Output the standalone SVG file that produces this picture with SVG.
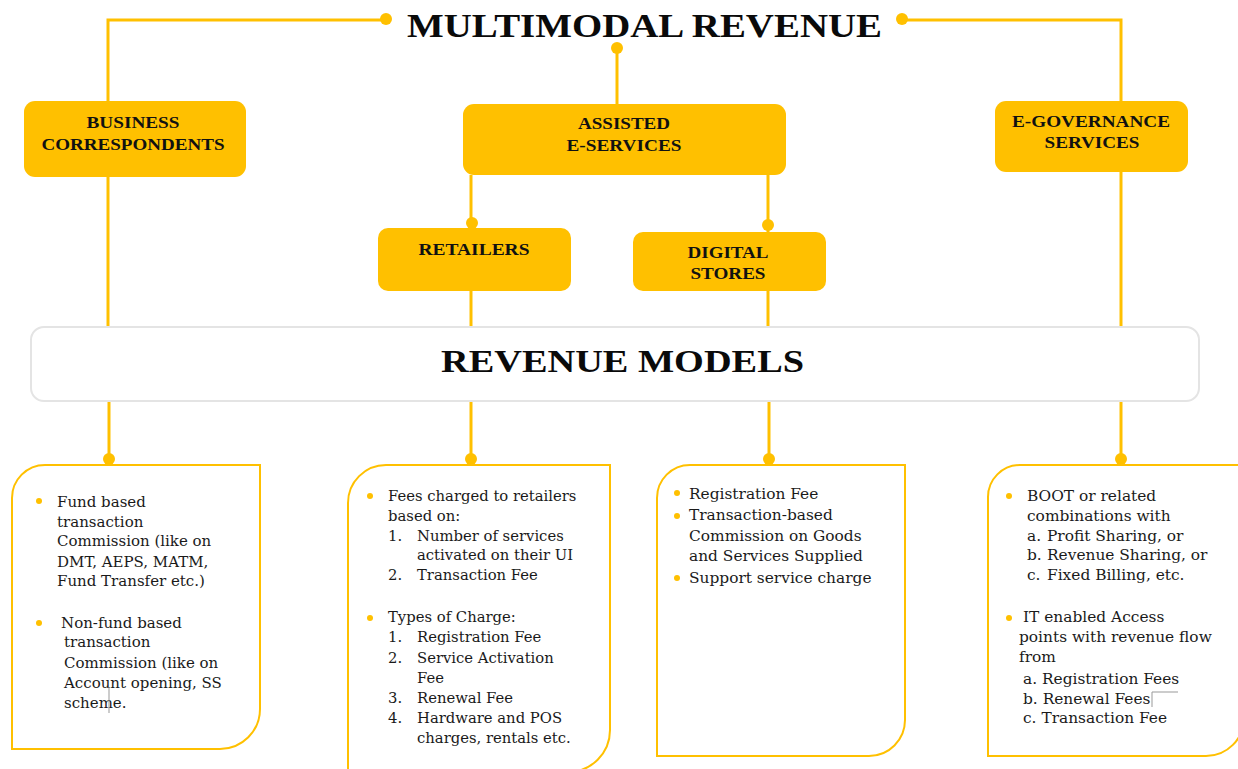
<svg xmlns="http://www.w3.org/2000/svg" width="1238" height="769" viewBox="0 0 1238 769">
<style>
.gold{fill:#FFC000}
.conn{stroke:#FFC000;stroke-width:3;fill:none}
.lbl{font-family:"Liberation Serif","Times New Roman",serif;font-weight:bold;fill:#111;text-anchor:middle}
.ttl{font-family:"Liberation Serif","Times New Roman",serif;font-weight:bold;fill:#0a0a0a}
.card{fill:#fff;stroke:#FFC000;stroke-width:2}
.a{font-family:"DejaVu Serif","Liberation Serif",serif;font-size:15px;fill:#1a1a1a}
.b{font-family:"DejaVu Serif","Liberation Serif",serif;font-size:14.8px;fill:#1a1a1a}
.c{font-family:"DejaVu Serif","Liberation Serif",serif;font-size:15.4px;fill:#1a1a1a}
.art{stroke:#999;stroke-width:1;fill:none}
</style>
<rect width="1238" height="769" fill="#fff"/>

<g id="connectors">
<path class="conn" d="M386,20 H108 V101"/>
<path class="conn" d="M902,20 H1121 V101"/>
<path class="conn" d="M617,48 V104"/>
<path class="conn" d="M471,175 V229"/>
<path class="conn" d="M768,175 V232"/>
<path class="conn" d="M108,177 V327"/>
<path class="conn" d="M471,291 V327"/>
<path class="conn" d="M768,291 V327"/>
<path class="conn" d="M1121,172 V327"/>
<path class="conn" d="M109,401 V465"/>
<path class="conn" d="M471,401 V465"/>
<path class="conn" d="M769,401 V465"/>
<path class="conn" d="M1121,401 V465"/>
<circle class="gold" cx="386" cy="19" r="6"/>
<circle class="gold" cx="902" cy="19" r="6"/>
<circle class="gold" cx="617" cy="48" r="6"/>
<circle class="gold" cx="472" cy="223" r="6"/>
<circle class="gold" cx="768" cy="225" r="6"/>
<circle class="gold" cx="109" cy="459" r="6"/>
<circle class="gold" cx="471" cy="459" r="6"/>
<circle class="gold" cx="769" cy="459" r="6"/>
<circle class="gold" cx="1121" cy="459" r="6"/>
</g>

<g id="title">
<text class="ttl" x="407" y="37" font-size="34" textLength="475" lengthAdjust="spacingAndGlyphs">MULTIMODAL REVENUE</text>
</g>

<g id="business-correspondents">
<rect class="gold" x="24" y="101" width="222" height="76" rx="11"/>
<text class="lbl" x="133" y="128" font-size="16.5" textLength="93" lengthAdjust="spacingAndGlyphs">BUSINESS</text>
<text class="lbl" x="133" y="150" font-size="16.5" textLength="183" lengthAdjust="spacingAndGlyphs">CORRESPONDENTS</text>
</g>

<g id="assisted-e-services">
<rect class="gold" x="463" y="104" width="323" height="71" rx="11"/>
<text class="lbl" x="624" y="129" font-size="16.5" textLength="92" lengthAdjust="spacingAndGlyphs">ASSISTED</text>
<text class="lbl" x="624" y="151" font-size="16.5" textLength="115" lengthAdjust="spacingAndGlyphs">E-SERVICES</text>
</g>

<g id="e-governance-services">
<rect class="gold" x="995" y="101" width="193" height="71" rx="11"/>
<text class="lbl" x="1091" y="127" font-size="16.5" textLength="158" lengthAdjust="spacingAndGlyphs">E-GOVERNANCE</text>
<text class="lbl" x="1092" y="148" font-size="16.5" textLength="95" lengthAdjust="spacingAndGlyphs">SERVICES</text>
</g>

<g id="retailers">
<rect class="gold" x="378" y="228" width="193" height="63" rx="10"/>
<text class="lbl" x="474" y="255" font-size="16.5" textLength="111" lengthAdjust="spacingAndGlyphs">RETAILERS</text>
</g>

<g id="digital-stores">
<rect class="gold" x="633" y="232" width="193" height="59" rx="10"/>
<text class="lbl" x="728" y="258" font-size="16.5" textLength="81" lengthAdjust="spacingAndGlyphs">DIGITAL</text>
<text class="lbl" x="728" y="279" font-size="16.5" textLength="75" lengthAdjust="spacingAndGlyphs">STORES</text>
</g>

<g id="revenue-models">
<rect x="31" y="327" width="1168" height="74" rx="13" fill="#fff" stroke="#e4e4e4" stroke-width="2"/>
<text class="ttl" x="441" y="372" font-size="32" textLength="363" lengthAdjust="spacingAndGlyphs">REVENUE MODELS</text>
</g>

<g id="bc-models">
<path class="card" d="M12,498 A33,33 0 0 1 45,465 H260 V709 A40,40 0 0 1 220,749 H12 Z"/>
<circle class="gold" cx="39" cy="501" r="3"/>
<text class="a" x="57" y="507">Fund based</text>
<text class="a" x="57" y="527">transaction</text>
<text class="a" x="57" y="546">Commission (like on</text>
<text class="a" x="57" y="567">DMT, AEPS, MATM,</text>
<text class="a" x="57" y="586">Fund Transfer etc.)</text>
<circle class="gold" cx="39" cy="623" r="3"/>
<text class="a" x="61" y="628">Non-fund based</text>
<text class="a" x="64" y="647">transaction</text>
<text class="a" x="64" y="668">Commission (like on</text>
<text class="a" x="64" y="688">Account opening, SS</text>
<text class="a" x="64" y="708">scheme.</text>
<path class="art" d="M109,687 V713"/>
</g>

<g id="retailer-models">
<path class="card" d="M348,503 A38,38 0 0 1 386,465 H610 V730 A42,42 0 0 1 568,772 H348 Z"/>
<circle class="gold" cx="370" cy="496" r="3"/>
<text class="b" x="388" y="501">Fees charged to retailers</text>
<text class="b" x="388" y="521">based on:</text>
<text class="b" x="388" y="541">1.</text><text class="b" x="417" y="541">Number of services</text>
<text class="b" x="417" y="560">activated on their UI</text>
<text class="b" x="388" y="580">2.</text><text class="b" x="417" y="580">Transaction Fee</text>
<circle class="gold" cx="370" cy="618" r="3"/>
<text class="b" x="388" y="622">Types of Charge:</text>
<text class="b" x="388" y="642">1.</text><text class="b" x="417" y="642">Registration Fee</text>
<text class="b" x="388" y="663">2.</text><text class="b" x="417" y="663">Service Activation</text>
<text class="b" x="417" y="683">Fee</text>
<text class="b" x="388" y="703">3.</text><text class="b" x="417" y="703">Renewal Fee</text>
<text class="b" x="388" y="723">4.</text><text class="b" x="417" y="723">Hardware and POS</text>
<text class="b" x="417" y="743">charges, rentals etc.</text>
</g>

<g id="digital-store-models">
<path class="card" d="M657,498 A33,33 0 0 1 690,465 H905 V720 A36,36 0 0 1 869,756 H657 Z"/>
<circle class="gold" cx="677" cy="493" r="3"/>
<text class="c" x="689" y="499">Registration Fee</text>
<circle class="gold" cx="677" cy="516" r="3"/>
<text class="c" x="689" y="520">Transaction-based</text>
<text class="c" x="689" y="541">Commission on Goods</text>
<text class="c" x="689" y="561">and Services Supplied</text>
<circle class="gold" cx="677" cy="578" r="3"/>
<text class="c" x="689" y="583">Support service charge</text>
</g>

<g id="egov-models">
<path class="card" d="M988,497 A32,32 0 0 1 1020,465 H1244 V718 A38,38 0 0 1 1206,756 H988 Z"/>
<circle class="gold" cx="1009" cy="496" r="3"/>
<text class="c" x="1027" y="501">BOOT or related</text>
<text class="c" x="1027" y="521">combinations with</text>
<text class="c" x="1027" y="541">a.</text><text class="c" x="1047" y="541">Profit Sharing, or</text>
<text class="c" x="1027" y="560">b.</text><text class="c" x="1047" y="560">Revenue Sharing, or</text>
<text class="c" x="1027" y="580">c.</text><text class="c" x="1047" y="580">Fixed Billing, etc.</text>
<circle class="gold" cx="1009" cy="618" r="3"/>
<text class="c" x="1023" y="622">IT enabled Access</text>
<text class="c" x="1019" y="642">points with revenue flow</text>
<text class="c" x="1019" y="662">from</text>
<text class="c" x="1023" y="684">a. Registration Fees</text>
<text class="c" x="1023" y="704">b. Renewal Fees</text>
<text class="c" x="1023" y="723">c. Transaction Fee</text>
<path class="art" d="M1152,707 V692 H1178"/>
</g>
</svg>
